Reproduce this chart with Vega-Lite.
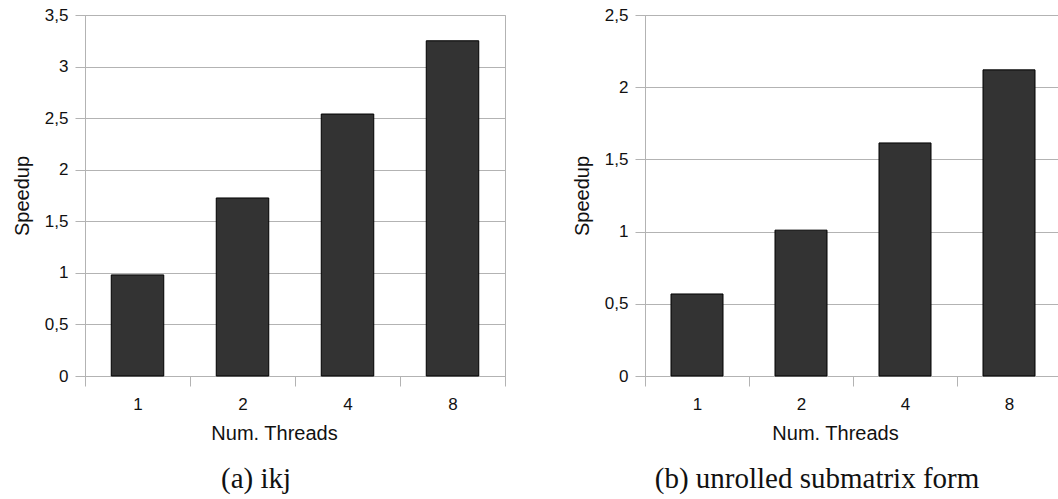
{
  "$schema": "https://vega.github.io/schema/vega-lite/v6.json",
  "background": "white",
  "padding": {"left": 11, "top": 5, "right": 0, "bottom": 0},
  "spacing": 65,
  "data": {
    "values": [
      {"panel": "a", "threads": "1", "speedup": 0.98},
      {"panel": "a", "threads": "2", "speedup": 1.726},
      {"panel": "a", "threads": "4", "speedup": 2.54},
      {"panel": "a", "threads": "8", "speedup": 3.25},
      {"panel": "b", "threads": "1", "speedup": 0.568},
      {"panel": "b", "threads": "2", "speedup": 1.01},
      {"panel": "b", "threads": "4", "speedup": 1.614},
      {"panel": "b", "threads": "8", "speedup": 2.12}
    ]
  },
  "config": {
    "font": "Liberation Sans",
    "view": {"stroke": "#b3b3b3", "strokeWidth": 1},
    "axis": {
      "labelFont": "Liberation Sans",
      "labelFontSize": 17,
      "labelColor": "#111111",
      "titleFont": "Liberation Sans",
      "titleFontSize": 20,
      "titleFontWeight": "normal",
      "titleColor": "#111111",
      "domainColor": "#b3b3b3",
      "tickColor": "#b3b3b3",
      "gridColor": "#b3b3b3",
      "tickSize": 10
    },
    "title": {
      "font": "Liberation Serif",
      "fontSize": 29,
      "fontWeight": "normal",
      "color": "#111111",
      "orient": "bottom",
      "anchor": "middle"
    }
  },
  "hconcat": [
    {
      "width": 420,
      "height": 361,
      "title": {"text": "(a) ikj", "orient": "bottom", "offset": 22, "dx": -39},
      "transform": [{"filter": "datum.panel == 'a'"}],
      "mark": {"type": "bar", "fill": "#333333", "stroke": "#000000", "strokeWidth": 1, "width": {"band": 0.5}},
      "encoding": {
        "x": {
          "field": "threads", "type": "ordinal", "sort": ["1", "2", "4", "8"],
          "scale": {"paddingInner": 0, "paddingOuter": 0},
          "axis": {"title": "Num. Threads", "labelAngle": 0, "tickBand": "extent", "grid": false, "labelPadding": 10, "titlePadding": 11, "titleX": 189}
        },
        "y": {
          "field": "speedup", "type": "quantitative",
          "scale": {"domain": [0, 3.5], "nice": false},
          "axis": {"title": "Speedup", "values": [0, 0.5, 1, 1.5, 2, 2.5, 3, 3.5], "labelExpr": "replace(toString(datum.value), '.', ',')", "labelPadding": 7, "titlePadding": 12}
        }
      }
    },
    {
      "width": 416,
      "height": 361,
      "title": {"text": "(b) unrolled submatrix form", "orient": "bottom", "offset": 22, "dx": -36},
      "transform": [{"filter": "datum.panel == 'b'"}],
      "mark": {"type": "bar", "fill": "#333333", "stroke": "#000000", "strokeWidth": 1, "width": {"band": 0.5}},
      "encoding": {
        "x": {
          "field": "threads", "type": "ordinal", "sort": ["1", "2", "4", "8"],
          "scale": {"paddingInner": 0, "paddingOuter": 0},
          "axis": {"title": "Num. Threads", "labelAngle": 0, "tickBand": "extent", "grid": false, "labelPadding": 10, "titlePadding": 11, "titleX": 190}
        },
        "y": {
          "field": "speedup", "type": "quantitative",
          "scale": {"domain": [0, 2.5], "nice": false},
          "axis": {"title": "Speedup", "values": [0, 0.5, 1, 1.5, 2, 2.5], "labelExpr": "replace(toString(datum.value), '.', ',')", "labelPadding": 7, "titlePadding": 12}
        }
      }
    }
  ]
}
